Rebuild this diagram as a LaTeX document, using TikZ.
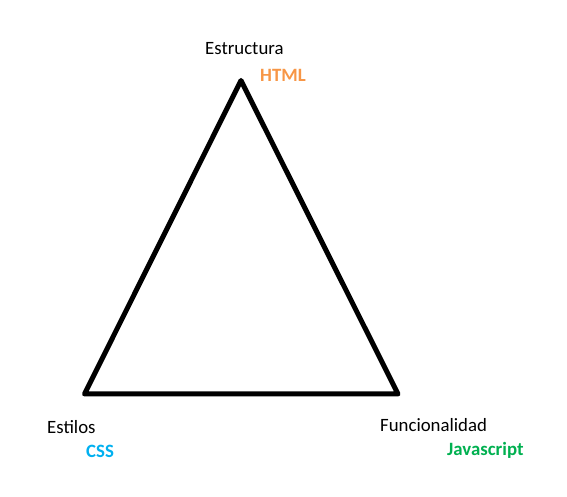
\documentclass[tikz,border=0pt]{standalone}
\usepackage{fontspec}
\setmainfont{Carlito}
\definecolor{htmlorange}{HTML}{F79646}
\definecolor{cssblue}{HTML}{00B0F0}
\definecolor{jsgreen}{HTML}{00B050}
\begin{document}
\begin{tikzpicture}[x=1pt,y=1pt,
  lbl/.style={anchor=base west,inner sep=0pt,font=\fontsize{18.8}{20}\selectfont},
  tech/.style={lbl,font=\fontsize{18.8}{20}\selectfont\bfseries},
  edge/.style={line width=5pt,line join=round,line cap=round}]
\useasboundingbox (0,0) rectangle (567,497);
\coordinate (top) at (241,497-80.5);
\coordinate (bl) at (84.5,497-394);
\coordinate (br) at (398,497-394);
\draw[edge] (top) -- (bl) -- (br) -- cycle;
\node[lbl] (estructura) at (205,497-55) {Estructura};
\node[tech,text=htmlorange] (html) at (260,497-82) {HTML};
\node[lbl] (estilos) at (47,497-434) {Estilos};
\node[tech,text=cssblue] (css) at (86,497-458) {CSS};
\node[lbl] (funcionalidad) at (380,497-432) {Funcionalidad};
\node[tech,text=jsgreen] (js) at (447,497-456) {Javascript};
\end{tikzpicture}
\end{document}
